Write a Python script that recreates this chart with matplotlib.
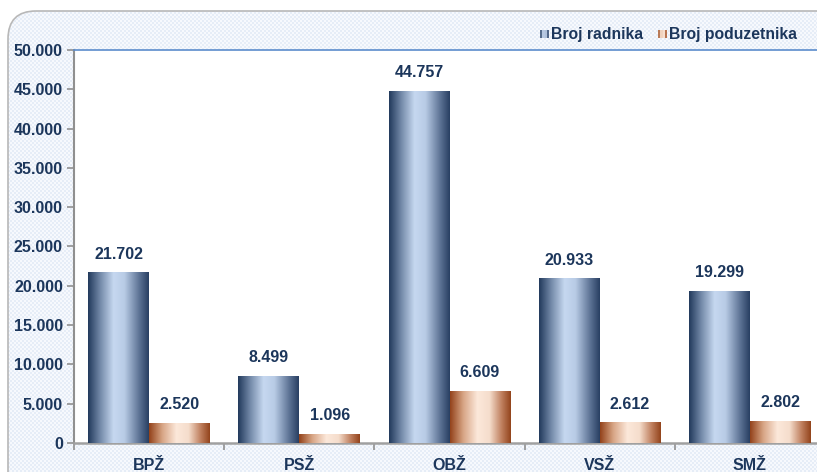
import numpy as np
import matplotlib
matplotlib.use("Agg")
import matplotlib.pyplot as plt
from matplotlib.patches import FancyBboxPatch, Rectangle
from matplotlib.colors import LinearSegmentedColormap
from matplotlib.ticker import FuncFormatter, FixedLocator
from matplotlib.legend_handler import HandlerBase

plt.rcParams['font.family'] = ['Liberation Sans', 'DejaVu Sans']

categories = ["BPŽ", "PSŽ", "OBŽ", "VSŽ", "SMŽ"]
radnici = [21702, 8499, 44757, 20933, 19299]
poduzetnici = [2520, 1096, 6609, 2612, 2802]
series_names = ["Broj radnika", "Broj poduzetnika"]

W, H = 817, 472
fig = plt.figure(figsize=(W / 100, H / 100), dpi=100)
fig.patch.set_facecolor("white")

# checker background pattern
yy, xx = np.mgrid[0:H, 0:W]
chk = ((xx // 2 + yy // 2) % 2).astype(float)
bg = np.zeros((H, W, 3))
c1 = np.array([0xe6, 0xed, 0xf7]) / 255
c2 = np.array([0xf7, 0xf9, 0xfd]) / 255
bg[:] = c1 * chk[..., None] + c2 * (1 - chk[..., None])
bgax = fig.add_axes([0, 0, 1, 1], zorder=0)
bgax.set_xlim(0, W)
bgax.set_ylim(H, 0)
bgax.axis("off")
frame = FancyBboxPatch((8, 11), W + 40, H + 40,
                       boxstyle="round,pad=0,rounding_size=28",
                       facecolor="none", edgecolor="#b8b8b8", linewidth=1.2)
bgax.add_patch(frame)
img = bgax.imshow(bg, extent=(0, W, H, 0), zorder=0)
img.set_clip_path(frame)

# main axes: x 74..825 px, y 50..443 px
ax = fig.add_axes([74 / W, 1 - 443 / H, 751 / W, 393 / H], zorder=1)
ax.set_facecolor("white")
n = len(categories)
x = np.arange(n)
bw = 0.405
b1 = ax.bar(x - bw / 2, radnici, bw, color="#6f86a8", zorder=2)
b2 = ax.bar(x + bw / 2, poduzetnici, bw, color="#c98a60", zorder=2)

cm_blue = LinearSegmentedColormap.from_list(
    "b", [(0, "#223a5c"), (0.2, "#7389a8"), (0.42, "#c6d8f0"), (0.6, "#b8cbe5"), (0.85, "#5a7092"), (1, "#283f62")])
cm_or = LinearSegmentedColormap.from_list(
    "o", [(0, "#93421a"), (0.22, "#d8a686"), (0.45, "#fce8da"), (0.65, "#f5ddcc"), (0.85, "#bf7f5e"), (1, "#93441c")])
grad = np.linspace(0, 1, 256).reshape(1, -1)
for bars, cm in ((b1, cm_blue), (b2, cm_or)):
    for p in bars:
        x0, y0 = p.get_x(), p.get_y()
        w, h = p.get_width(), p.get_height()
        im = ax.imshow(grad, cmap=cm, aspect="auto", extent=(x0, x0 + w, y0, y0 + h), zorder=3)
        im.set_clip_path(p)

ax.set_xlim(-0.5, n - 0.5)
ax.set_ylim(0, 50000)

txtc = "#1c365b"
fs = 11.5
for bars, vals in ((b1, radnici), (b2, poduzetnici)):
    for p, v in zip(bars, vals):
        ax.annotate(f"{v:,}".replace(",", "."), (p.get_x() + p.get_width() / 2, v),
                    xytext=(0, 10), textcoords="offset points", ha="center", va="baseline",
                    fontsize=fs, fontweight="bold", color=txtc, zorder=5)

ax.yaxis.set_major_locator(FixedLocator(np.arange(0, 50001, 5000)))
ax.yaxis.set_major_formatter(FuncFormatter(lambda v, p: f"{int(v):,}".replace(",", ".")))
ax.set_xticks(np.arange(n + 1) - 0.5)
ax.set_xticklabels([])
ax.set_xticks(x, minor=True)
ax.set_xticklabels(categories, minor=True)
ax.tick_params(axis="x", which="minor", length=0, pad=10.5)
ax.tick_params(axis="x", which="major", length=5, color="#909090", width=1.2)
ax.tick_params(axis="y", length=5, color="#909090", width=1.2, pad=3)
for lab in ax.get_yticklabels() + ax.get_xticklabels(minor=True):
    lab.set_fontweight("bold")
    lab.set_fontsize(fs)
    lab.set_color(txtc)

ax.spines["right"].set_visible(False)
ax.spines["top"].set_color("#5b8ccc")
ax.spines["top"].set_linewidth(1.2)
ax.spines["left"].set_color("#909090")
ax.spines["left"].set_linewidth(1.5)
ax.spines["bottom"].set_color("#a0a0a0")
ax.spines["bottom"].set_linewidth(1.8)

# legend with gradient squares
class GradHandler(HandlerBase):
    def __init__(self, cm):
        super().__init__()
        self.cm = cm
    def create_artists(self, legend, orig, xd, yd, width, height, fontsize, trans):
        arts = []
        k = 4
        s = height * 0.75
        x0 = xd + width - s
        for i in range(k):
            r = Rectangle((x0 + i * s / k, yd + (height - s) / 2 - 0.5), s / k, s,
                          facecolor=self.cm((i + 0.5) / k), edgecolor="none", transform=trans)
            arts.append(r)
        return arts

h1 = Rectangle((0, 0), 1, 1)
h2 = Rectangle((0, 0), 1, 1)
leg = fig.legend([h1, h2], series_names, loc="center right", bbox_to_anchor=(797 / W, 1 - 34 / H),
                 ncol=2, frameon=False, handler_map={h1: GradHandler(cm_blue), h2: GradHandler(cm_or)},
                 handlelength=0.6, handletextpad=0.15, columnspacing=0.9, borderpad=0, borderaxespad=0,
                 prop={"weight": "bold", "size": 11.3})
for t in leg.get_texts():
    t.set_color(txtc)

fig.savefig("out.png", dpi=100)
